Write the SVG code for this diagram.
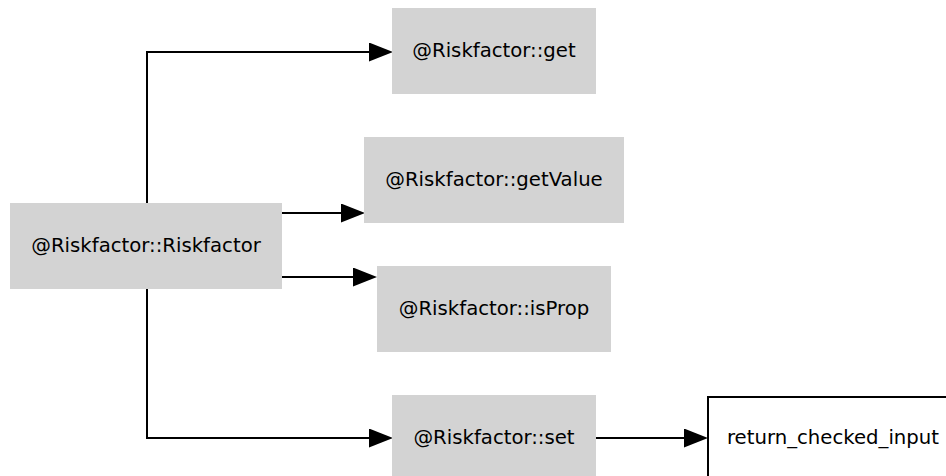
<svg xmlns="http://www.w3.org/2000/svg" width="946" height="476" viewBox="0 0 946 476">
  <style>
    .fn rect { fill: #d3d3d3; stroke: none; }
    .ext rect { fill: #ffffff; stroke: #000000; stroke-width: 2; }
    text { font-family: "DejaVu Sans", "Liberation Sans", sans-serif; font-size: 19.7px; fill: #000000; text-anchor: middle; }
    .edge { fill: none; stroke: #000000; stroke-width: 2; marker-end: url(#arrow); }
  </style>
  <defs>
    <marker id="arrow" markerUnits="userSpaceOnUse" markerWidth="24" markerHeight="19" refX="0" refY="9.5" orient="auto">
      <path d="M0,0 L24,9.5 L0,19 z" fill="#000000"/>
    </marker>
  </defs>
  <rect width="946" height="476" fill="#ffffff"/>
  <g id="connectors">
    <path class="edge" d="M147,203 V52 H369"/>
    <path class="edge" d="M282,213 H341"/>
    <path class="edge" d="M282,277 H353"/>
    <path class="edge" d="M147,289 V438 H369"/>
    <path class="edge" d="M596,438 H684"/>
  </g>
  <g id="node-riskfactor" class="fn">
    <rect x="10" y="203" width="272" height="86"/>
    <text x="146" y="252">@Riskfactor::Riskfactor</text>
  </g>
  <g id="node-get" class="fn">
    <rect x="392" y="8" width="204" height="86"/>
    <text x="494" y="57">@Riskfactor::get</text>
  </g>
  <g id="node-getvalue" class="fn">
    <rect x="364" y="137" width="260" height="86"/>
    <text x="494" y="186">@Riskfactor::getValue</text>
  </g>
  <g id="node-isprop" class="fn">
    <rect x="377" y="266" width="234" height="86"/>
    <text x="494" y="315">@Riskfactor::isProp</text>
  </g>
  <g id="node-set" class="fn">
    <rect x="392" y="395" width="204" height="86"/>
    <text x="494" y="444">@Riskfactor::set</text>
  </g>
  <g id="node-return-checked-input" class="ext">
    <rect x="708" y="397" width="260" height="100"/>
    <text x="833" y="444">return_checked_input</text>
  </g>
</svg>
